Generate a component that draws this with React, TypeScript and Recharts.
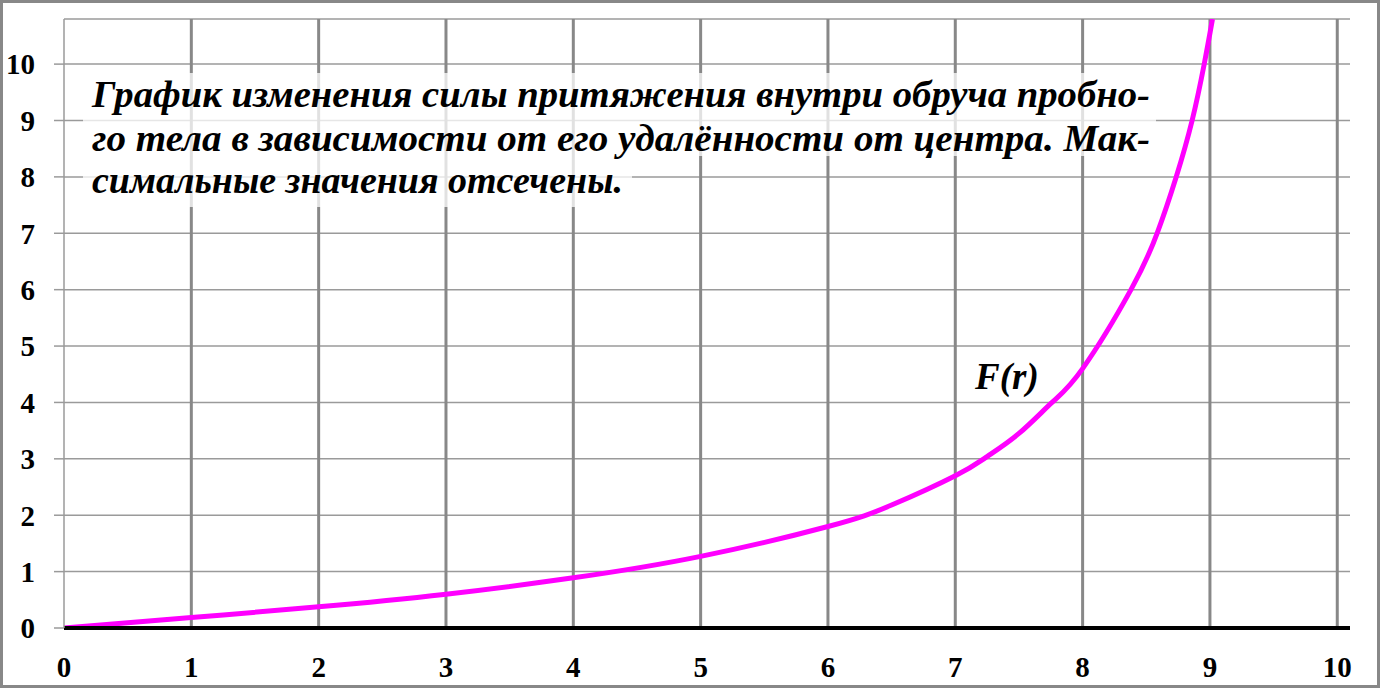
import { LineChart, Line, XAxis, YAxis, CartesianGrid, ReferenceLine } from 'recharts'

// distance from centre r and force F(r)
const rValues = [0, 1, 2, 3, 4, 5, 6, 6.5, 7, 7.25, 7.5, 7.76, 8, 8.38, 8.585, 8.735, 8.86, 8.955, 9.02]
const forceValues = [0, 0.185, 0.375, 0.6, 0.89, 1.27, 1.8, 2.18, 2.7, 3.04, 3.45, 4.0, 4.6, 6.0, 7.0, 8.0, 9.0, 10.0, 10.8]

const xTicks = [0, 1, 2, 3, 4, 5, 6, 7, 8, 9, 10]
const yTicks = [0, 1, 2, 3, 4, 5, 6, 7, 8, 9, 10]

const titleLines = [
    'График изменения силы притяжения внутри обруча пробно-',
    'го тела в зависимости от его удалённости от центра. Мак-',
    'симальные значения отсечены.',
]
const curveLabel = 'F(r)'

const data = rValues.map((r, i) => ({ r, f: forceValues[i] }))

const serif = '"Liberation Serif", "Times New Roman", serif'

export default function App() {
    return (
        <div style={{ position: 'absolute', left: 0, top: 0, width: 1380, height: 688, background: '#fff' }}>
            <LineChart
                width={1380}
                height={688}
                data={data}
                margin={{ top: 19, right: 30, left: 0, bottom: 0 }}
            >
                <CartesianGrid vertical={false} stroke="#9a9a9a" strokeWidth={1.5} />
                {xTicks.filter((t) => t > 0).map((t) => (
                    <ReferenceLine key={t} x={t} stroke="#888" strokeWidth={3} />
                ))}
                <XAxis
                    dataKey="r"
                    type="number"
                    domain={[0, 10.1]}
                    ticks={xTicks}
                    height={60}
                    axisLine={{ stroke: '#000', strokeWidth: 4 }}
                    tickLine={false}
                    tickSize={10}
                    tickMargin={18}
                    tick={{ fill: '#000', fontSize: 29, fontWeight: 'bold', fontFamily: serif }}
                    allowDataOverflow
                />
                <YAxis
                    type="number"
                    domain={[0, 10.8]}
                    ticks={yTicks}
                    width={64}
                    axisLine={{ stroke: '#9a9a9a', strokeWidth: 1.5 }}
                    tickLine={{ stroke: '#9a9a9a', strokeWidth: 1.5 }}
                    tickSize={10}
                    tickMargin={19}
                    tick={{ fill: '#000', fontSize: 29, fontWeight: 'bold', fontFamily: serif }}
                    allowDataOverflow
                />
                <Line
                    type="natural"
                    dataKey="f"
                    stroke="#ff00ff"
                    strokeWidth={5}
                    dot={false}
                    activeDot={false}
                    isAnimationActive={false}
                />
            </LineChart>
            <svg
                width={1380}
                height={688}
                style={{ position: 'absolute', left: 0, top: 0, pointerEvents: 'none' }}
            >
                <rect x={83} y={73} width={1073} height={83} fill="#fff" opacity={0.75} />
                <rect x={83} y={156} width={549} height={51} fill="#fff" opacity={0.75} />
                <g fontFamily={serif} fontWeight="bold" fontStyle="italic" fontSize={38} fill="#000">
                    <text x={92} y={107} textLength={1058} lengthAdjust="spacingAndGlyphs">{titleLines[0]}</text>
                    <text x={92} y={151} textLength={1058} lengthAdjust="spacingAndGlyphs">{titleLines[1]}</text>
                    <text x={92} y={193} textLength={531} lengthAdjust="spacingAndGlyphs">{titleLines[2]}</text>
                    <text x={975} y={389} fontSize={37}>{curveLabel}</text>
                </g>
                <rect x={1.5} y={1.5} width={1377} height={685} fill="none" stroke="#888" strokeWidth={3} />
            </svg>
        </div>
    )
}
